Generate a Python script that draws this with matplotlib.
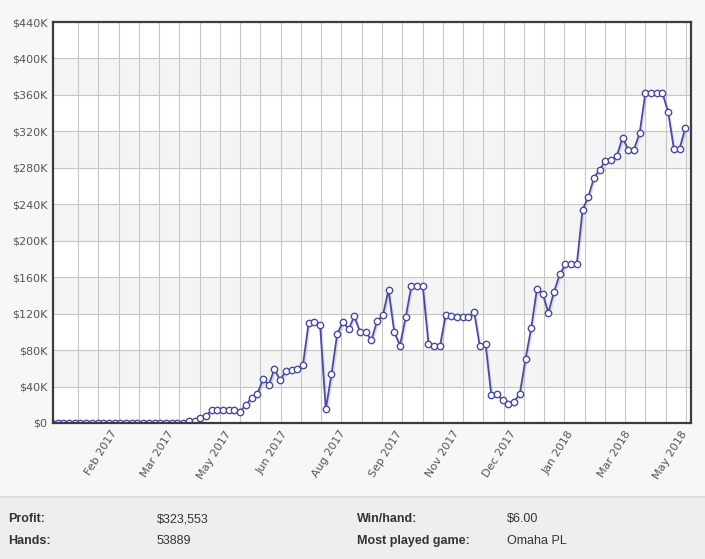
import matplotlib.pyplot as plt
import matplotlib.patheffects as pe
from matplotlib.patches import Rectangle
from matplotlib.lines import Line2D
import numpy as np

# cumulative profit in $K, one point per period
profit_k = [0, 0, 0, 0, 0, 0, 0, 0, 0, 0, 0, 0, 0, 0, 0, 0, 0, 0, 0, 0,
            0, 0, 0, 0.5, 2, 2.5, 5.5, 8, 14, 14, 14, 14, 14, 12.5, 20, 27.5,
            32, 48, 42, 59, 47, 57, 58.5, 59, 63.5, 110, 111, 108, 15, 53.5,
            97.5, 111, 103, 117, 100, 100, 91, 112, 118, 146, 100, 85, 116,
            150, 150, 150, 87, 85, 84, 118, 117, 116, 116, 116, 122, 84, 87,
            31, 32, 25, 21, 23.5, 32, 70, 104, 147, 142, 121, 144, 163, 174,
            175, 175, 234, 248, 269, 278, 288, 289, 293, 313, 300, 300, 318,
            362, 362, 362, 362, 341, 301, 301, 323.5]

x_labels = ['Feb 2017', 'Mar 2017', 'May 2017', 'Jun 2017', 'Aug 2017', 'Sep 2017',
            'Nov 2017', 'Dec 2017', 'Jan 2018', 'Mar 2018', 'May 2018']
x_label_idx = [11, 21, 31, 41, 51, 61, 71, 81, 91, 101, 111]
y_ticks = [0, 40, 80, 120, 160, 200, 240, 280, 320, 360, 400, 440]
y_labels = ['$0', '$40K', '$80K', '$120K', '$160K', '$200K', '$240K', '$280K',
            '$320K', '$360K', '$400K', '$440K']

stats_left = [('Profit:', '$323,553'), ('Hands:', '53889')]
stats_right = [('Win/hand:', '$6.00'), ('Most played game:', 'Omaha PL')]

LINE = '#4b4b9e'
GRID = '#c6c6c6'

fig = plt.figure(figsize=(7.05, 5.59), dpi=100, facecolor='#f7f7f7')
ax = fig.add_axes([53 / 705, 1 - 423 / 559, 638 / 705, 401 / 559])
ax.set_facecolor('white')

x = np.arange(len(profit_k))
ax.set_xlim(0.2, 112)
ax.set_ylim(0, 440)

# alternating bands
for lo in y_ticks[1:-1:2]:
    ax.axhspan(lo, lo + 40, color='#f4f4f4', zorder=0, lw=0)

# grid
for v in y_ticks[1:-1]:
    ax.axhline(v, color=GRID, lw=0.8, zorder=1)
for k in range(31):
    ax.axvline(4.6 + 3.55 * k, color=GRID, lw=0.8, zorder=1)

ax.plot(x, profit_k, color=LINE, lw=1.3, zorder=3, solid_joinstyle='round',
        path_effects=[pe.SimpleLineShadow(offset=(1.0, -1.3), shadow_color='#9a9ac0', alpha=0.3),
                      pe.Normal()])
ax.plot(x, profit_k, ls='none', marker='o', ms=4.6, mfc='white', mec=LINE, mew=1.0, zorder=4)

ax.set_yticks(y_ticks)
ax.set_yticklabels(y_labels)
ax.set_xticks(x_label_idx)
ax.set_xticklabels(x_labels, rotation=58, ha='right', va='center', rotation_mode='anchor')
ax.tick_params(length=0, labelsize=8, labelcolor='#555555')
ax.tick_params(axis='y', pad=4)
ax.tick_params(axis='x', pad=6)

for s in ax.spines.values():
    s.set_color('#3c3c3c')
    s.set_linewidth(1.6)
    s.set_zorder(5)

# stats panel at the bottom
fig.patches.append(Rectangle((0, 0), 1, 62 / 559, transform=fig.transFigure,
                             facecolor='#eeeeee', edgecolor='none', zorder=0))
fig.lines.append(Line2D([0, 1], [62 / 559, 62 / 559], transform=fig.transFigure,
                        color='#dcdcdc', lw=1.2))

rows_y = [1 - 519 / 559, 1 - 541 / 559]
font = dict(family=['Liberation Sans', 'DejaVu Sans'], fontsize=9, color='#333333', va='center')
for (lab, val), yy in zip(stats_left, rows_y):
    fig.text(8 / 705, yy, lab, fontweight='bold', **font)
    fig.text(157 / 705, yy, val, **font)
for (lab, val), yy in zip(stats_right, rows_y):
    fig.text(357 / 705, yy, lab, fontweight='bold', **font)
    fig.text(507 / 705, yy, val, **font)

fig.savefig('out.png', dpi=100, facecolor=fig.get_facecolor())
